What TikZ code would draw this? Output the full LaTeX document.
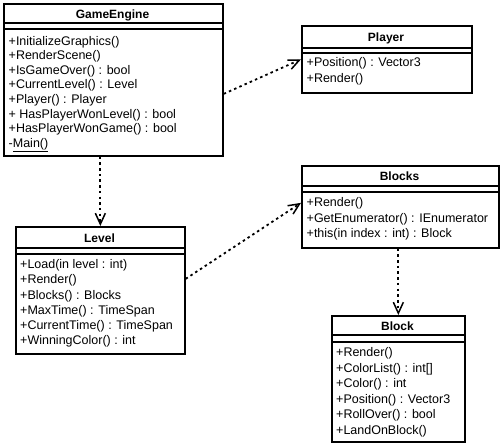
\documentclass[tikz,border=0pt]{standalone}
\usepackage{fontspec}
\setmainfont{Liberation Sans}
\usetikzlibrary{arrows.meta}
\tikzset{
  cls/.style={draw, line width=1.7pt, rectangle, inner sep=0pt, anchor=north west},
  ttl/.style={font=\fontsize{12}{14}\selectfont\bfseries, inner sep=0pt, anchor=base},
  op/.style={font=\fontsize{12.5}{15}\selectfont, inner sep=0pt, anchor=base west},
  sepline/.style={line width=1.6pt},
  dep/.style={line width=1.8pt, dash pattern=on 2.5pt off 3.2pt,
    -{Straight Barb[length=11pt,width=10pt,line width=1.5pt]}}
}
\begin{document}
\begin{tikzpicture}[x=1pt,y=-1pt]
\useasboundingbox (0,0) rectangle (500,443);

% GameEngine
\node[cls, minimum width=219pt, minimum height=152pt] (ge) at (3,3) {};
\draw[sepline] ([yshift=-20pt]ge.north west) -- ([yshift=-20pt]ge.north east);
\draw[sepline] ([yshift=-26pt]ge.north west) -- ([yshift=-26pt]ge.north east);
\node[ttl] (get) at (112.5,18.5) {GameEngine};
\node[op] (ge1) at (8.5,45.2) {+InitializeGraphics()};
\node[op] (ge2) at (8.5,59.8) {+RenderScene()};
\node[op] (ge3) at (8.5,74.4) {+IsGameOver() : bool};
\node[op] (ge4) at (8.5,89.0) {+CurrentLevel() : Level};
\node[op] (ge5) at (8.5,103.6) {+Player() : Player};
\node[op] (ge6) at (8.5,118.2) {+ HasPlayerWonLevel() : bool};
\node[op] (ge7) at (8.5,132.8) {+HasPlayerWonGame() : bool};
\node[op] (ge8) at (8.5,147.4) {-\underline{Main()}};

% Player
\node[cls, minimum width=170pt, minimum height=67pt] (pl) at (301,25) {};
\draw[sepline] ([yshift=-23pt]pl.north west) -- ([yshift=-23pt]pl.north east);
\draw[sepline] ([yshift=-28pt]pl.north west) -- ([yshift=-28pt]pl.north east);
\node[ttl] (plt) at (386,42) {Player};
\node[op] (pl1) at (306.5,66.8) {+Position() : Vector3};
\node[op] (pl2) at (306.5,82.3) {+Render()};

% Blocks
\node[cls, minimum width=197pt, minimum height=82pt] (bs) at (301,165) {};
\draw[sepline] ([yshift=-21pt]bs.north west) -- ([yshift=-21pt]bs.north east);
\draw[sepline] ([yshift=-27pt]bs.north west) -- ([yshift=-27pt]bs.north east);
\node[ttl] (bst) at (399.5,181) {Blocks};
\node[op] (bs1) at (306.5,206.2) {+Render()};
\node[op] (bs2) at (306.5,222.2) {+GetEnumerator() : IEnumerator};
\node[op] (bs3) at (306.5,237.8) {+this(in index : int) : Block};

% Level
\node[cls, minimum width=169pt, minimum height=127pt] (lv) at (15,226) {};
\draw[sepline] ([yshift=-22pt]lv.north west) -- ([yshift=-22pt]lv.north east);
\draw[sepline] ([yshift=-28pt]lv.north west) -- ([yshift=-28pt]lv.north east);
\node[ttl] (lvt) at (99.5,242.2) {Level};
\node[op] (lv1) at (20,268.8) {+Load(in level : int)};
\node[op] (lv2) at (20,283.9) {+Render()};
\node[op] (lv3) at (20,299.0) {+Blocks() : Blocks};
\node[op] (lv4) at (20,314.1) {+MaxTime() : TimeSpan};
\node[op] (lv5) at (20,329.2) {+CurrentTime() : TimeSpan};
\node[op] (lv6) at (20,344.3) {+WinningColor() : int};

% Block
\node[cls, minimum width=133pt, minimum height=126pt] (bk) at (331,315) {};
\draw[sepline] ([yshift=-20pt]bk.north west) -- ([yshift=-20pt]bk.north east);
\draw[sepline] ([yshift=-27pt]bk.north west) -- ([yshift=-27pt]bk.north east);
\node[ttl] (bkt) at (397.5,330.5) {Block};
\node[op] (bk1) at (336,356.5) {+Render()};
\node[op] (bk2) at (336,372.1) {+ColorList() : int[]};
\node[op] (bk3) at (336,387.7) {+Color() : int};
\node[op] (bk4) at (336,403.3) {+Position() : Vector3};
\node[op] (bk5) at (336,418.9) {+RollOver() : bool};
\node[op] (bk6) at (336,434.5) {+LandOnBlock()};

% dependencies
\draw[dep] ([yshift=-14pt]ge.east) -- (pl.west);
\draw[dep] (ge.south -| lv.north) -- (lv.north);
\draw[dep] ([yshift=11.5pt]lv.east) -- ([yshift=4pt]bs.west);
\draw[dep] (bs.south -| bk.north) -- (bk.north);
\end{tikzpicture}
\end{document}
